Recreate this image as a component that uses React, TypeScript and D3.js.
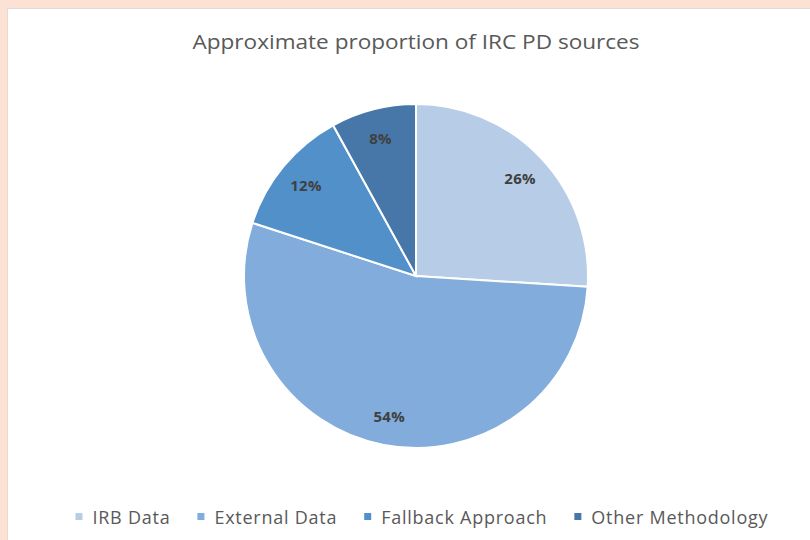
import React, { useEffect, useRef } from "react"
import * as d3 from "d3"

const categories = ["IRB Data", "External Data", "Fallback Approach", "Other Methodology"]
const shares = [26, 54, 12, 8]
const colors = ["#b7cce6", "#82acdb", "#5290c9", "#4677a8"]
const chartTitle = "Approximate proportion of IRC PD sources"

const W = 810
const H = 540
const FONT = "'Open Sans', sans-serif"

export default function App() {
  const ref = useRef<SVGSVGElement>(null)

  useEffect(() => {
    document.body.style.margin = "0"
    document.body.style.background = "#fce1d5"
    if (!ref.current) return
    const svg = d3.select(ref.current)
    svg.selectAll("*").remove()

    // peach page + white chart panel
    svg.append("rect").attr("width", W).attr("height", H).attr("fill", "#fce1d5")
    svg
      .append("rect")
      .attr("x", 7.5)
      .attr("y", 8.5)
      .attr("width", W + 10)
      .attr("height", H + 10)
      .attr("fill", "#ffffff")
      .attr("stroke", "#e6d8d2")

    svg
      .append("text")
      .attr("x", 416)
      .attr("y", 49)
      .attr("text-anchor", "middle")
      .attr("font-family", FONT)
      .attr("font-size", 20)
      .attr("textLength", 447)
      .attr("lengthAdjust", "spacingAndGlyphs")
      .attr("fill", "#595959")
      .text(chartTitle)

    const cx = 416
    const cy = 276
    const R = 172

    const pie = d3
      .pie<number>()
      .sort(null)
      .value((d) => d)
    const arcs = pie(shares)
    const arc = d3.arc<d3.PieArcDatum<number>>().innerRadius(0).outerRadius(R)
    const labelArc = d3
      .arc<d3.PieArcDatum<number>>()
      .innerRadius(R * 0.83)
      .outerRadius(R * 0.83)

    const g = svg.append("g").attr("transform", `translate(${cx},${cy})`)
    g.selectAll("path")
      .data(arcs)
      .join("path")
      .attr("d", arc)
      .attr("fill", (_, i) => colors[i])
      .attr("stroke", "#ffffff")
      .attr("stroke-width", 2)

    const total = d3.sum(shares)
    g.selectAll("text")
      .data(arcs)
      .join("text")
      .attr("transform", (d) => `translate(${labelArc.centroid(d)})`)
      .attr("text-anchor", "middle")
      .attr("dominant-baseline", "central")
      .attr("font-family", FONT)
      .attr("font-size", 15)
      .attr("letter-spacing", 0.3)
      .attr("font-weight", "bold")
      .attr("fill", "#404040")
      .text((d) => `${Math.round((d.data / total) * 100)}%`)

    // legend, laid out from measured text widths
    const legend = svg.append("g")
    const items = legend
      .selectAll("g")
      .data(categories)
      .join("g")
    items
      .append("rect")
      .attr("width", 7)
      .attr("height", 7)
      .attr("y", -4)
      .attr("fill", (_, i) => colors[i])
    items
      .append("text")
      .attr("x", 17)
      .attr("dominant-baseline", "central")
      .attr("font-family", FONT)
      .attr("font-size", 18)
      .attr("letter-spacing", 0.75)
      .attr("fill", "#595959")
      .text((d) => d)

    const widths = items.nodes().map((n) => (n as SVGGElement).getBBox().width)
    const gap = 27
    const totalW = d3.sum(widths) + gap * (widths.length - 1)
    let x = 422 - totalW / 2
    items.attr("transform", (_, i) => {
      const t = `translate(${x},517)`
      x += widths[i] + gap
      return t
    })
  }, [])

  return <svg ref={ref} width={W} height={H} style={{ display: "block" }} />
}
